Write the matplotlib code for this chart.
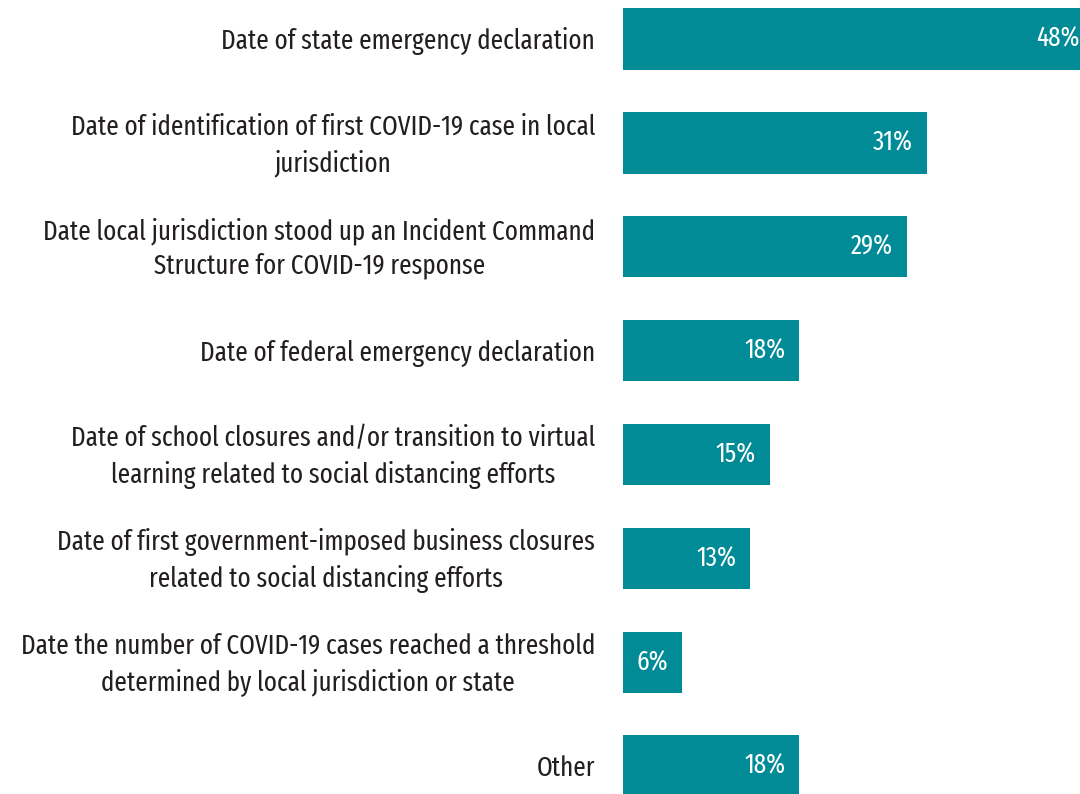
import matplotlib.pyplot as plt
import numpy as np


# =========================
# DATA
# =========================

categories = [
    "Date of state emergency declaration",
    "Date of identification of first COVID-19 case in local\njurisdiction",
    "Date local jurisdiction stood up an Incident Command\nStructure for COVID-19 response",
    "Date of federal emergency declaration",
    "Date of school closures and/or transition to virtual\nlearning related to social distancing efforts",
    "Date of first government-imposed business closures\nrelated to social distancing efforts",
    "Date the number of COVID-19 cases reached a threshold\ndetermined by local jurisdiction or state",
    "Other",
]

values = [48, 31, 29, 18, 15, 13, 6, 18]


# =========================
# STYLE
# =========================

plt.rcParams["font.family"] = ["Fira Sans Extra Condensed", "DejaVu Sans"]

bar_color = "#008B96"
text_color = "#231F20"


# =========================
# FIGURE
# =========================

fig = plt.figure(figsize=(10.8, 7.94), dpi=100)
ax = fig.add_axes([623 / 1080, 0, 457 / 1080, 1])

y = np.arange(len(categories))

bars = ax.barh(y, values, height=0.59, color=bar_color)

ax.set_xlim(0, 457 / 9.8)
ax.set_ylim(7.269, -0.3755)

ax.set_xticks([])
ax.set_yticks([])

for s in ax.spines.values():
    s.set_visible(False)

# category labels, right aligned left of the bars
for yi, cat in zip(y, categories):
    ax.annotate(
        cat,
        xy=(0, yi),
        xycoords=("axes fraction", "data"),
        xytext=(-20, -1.5),
        textcoords="offset points",
        ha="right",
        va="center",
        multialignment="center",
        linespacing=1.42,
        color=text_color,
        fontsize=19.6,
        annotation_clip=False,
    )

# value labels inside bars
for bar, v in zip(bars, values):
    ax.annotate(
        f"{v}%",
        xy=(bar.get_width(), bar.get_y() + bar.get_height() / 2),
        xytext=(-10, 0),
        textcoords="offset points",
        ha="right",
        va="center",
        color="white",
        fontsize=19.6,
        annotation_clip=False,
    )

fig.savefig("out.png", dpi=100)
